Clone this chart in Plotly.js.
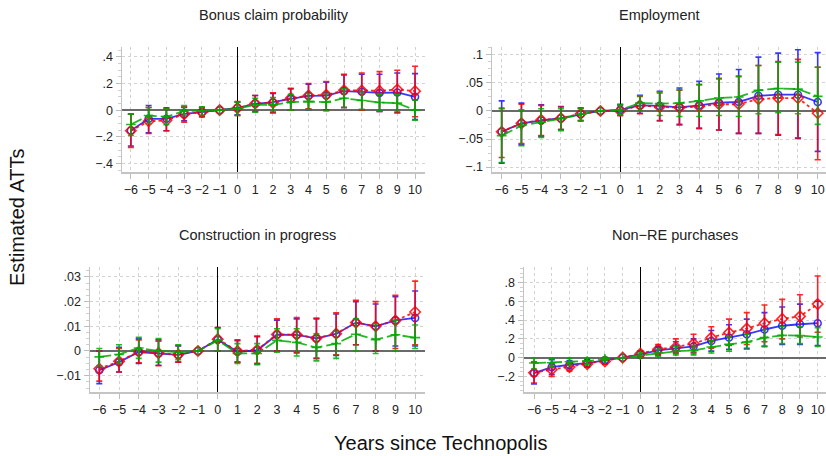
<!DOCTYPE html>
<html>
<head>
<meta charset="utf-8">
<script src="https://cdn.plot.ly/plotly-3.0.1.min.js"></script>
<style>html,body{margin:0;padding:0;background:#fff;}#chart{width:826px;height:456px;}</style>
</head>
<body>
<div id="chart"></div>
<script>
// ---------- DATA ----------
const years = [-6,-5,-4,-3,-2,-1,0,1,2,3,4,5,6,7,8,9,10];
const yearLabels = ["−6","−5","−4","−3","−2","−1","0","1","2","3","4","5","6","7","8","9","10"];

const panelTitles = ["Bonus claim probability","Employment","Construction in progress","Non−RE purchases"];

// Bonus claim probability
const bonusBlue   = [-0.153,-0.065,-0.065,-0.028,-0.015,0,0.018,0.048,0.06,0.085,0.108,0.11,0.143,0.138,0.13,0.133,0.10];
const bonusBlueLo = [-0.27,-0.17,-0.155,-0.08,-0.05,0,-0.035,-0.01,-0.02,0.0,0.005,0.0,0.02,0.005,-0.01,-0.02,-0.07];
const bonusBlueHi = [-0.03,0.035,0.018,0.02,0.02,0,0.06,0.11,0.125,0.16,0.195,0.21,0.265,0.27,0.27,0.28,0.275];
const bonusRed    = [-0.155,-0.083,-0.078,-0.03,-0.015,0,0.015,0.05,0.055,0.09,0.11,0.115,0.15,0.148,0.145,0.155,0.143];
const bonusRedLo  = [-0.28,-0.175,-0.155,-0.09,-0.05,0,-0.04,-0.01,-0.02,0.0,0.01,0.0,0.02,0.0,-0.01,-0.02,-0.05];
const bonusRedHi  = [-0.03,0.02,0.01,0.025,0.02,0,0.065,0.11,0.13,0.165,0.2,0.215,0.27,0.28,0.29,0.3,0.33];
const bonusGreen   = [-0.108,-0.04,-0.05,-0.005,-0.005,0,0.01,0.04,0.04,0.06,0.065,0.06,0.09,0.073,0.058,0.053,0.0];
const bonusGreenLo = [-0.19,-0.1,-0.11,-0.04,-0.04,0,-0.04,-0.015,-0.01,0.0,0.005,-0.005,0.02,0.005,-0.005,-0.01,-0.075];
const bonusGreenHi = [-0.03,0.02,0.01,0.035,0.025,0,0.06,0.09,0.095,0.12,0.125,0.125,0.16,0.14,0.12,0.115,0.075];

// Employment
const empBlue   = [-0.037,-0.022,-0.017,-0.013,-0.006,0,0.002,0.01,0.009,0.0065,0.01,0.015,0.016,0.027,0.029,0.029,0.016];
const empBlueLo = [-0.093,-0.06,-0.045,-0.033,-0.018,0,-0.008,-0.004,-0.017,-0.024,-0.031,-0.034,-0.04,-0.04,-0.043,-0.049,-0.072];
const empBlueHi = [0.018,0.014,0.011,0.008,0.005,0,0.012,0.028,0.035,0.041,0.053,0.066,0.074,0.096,0.103,0.109,0.104];
const empRed    = [-0.037,-0.022,-0.016,-0.013,-0.005,0,0.0,0.01,0.007,0.006,0.008,0.012,0.012,0.021,0.023,0.023,-0.004];
const empRedLo  = [-0.083,-0.058,-0.044,-0.033,-0.017,0,-0.008,-0.005,-0.018,-0.025,-0.031,-0.034,-0.04,-0.04,-0.042,-0.048,-0.087];
const empRedHi  = [0.005,0.012,0.01,0.007,0.005,0,0.01,0.026,0.032,0.037,0.047,0.058,0.062,0.081,0.088,0.092,0.078];
const empGreen   = [-0.044,-0.026,-0.02,-0.014,-0.006,0,0.002,0.014,0.013,0.014,0.018,0.023,0.025,0.037,0.04,0.039,0.026];
const empGreenLo = [-0.092,-0.062,-0.047,-0.035,-0.017,0,-0.007,0.0,-0.008,-0.01,-0.01,-0.008,-0.01,-0.005,-0.003,-0.005,-0.024];
const empGreenHi = [0.004,0.002,0.004,0.004,0.004,0,0.011,0.027,0.034,0.038,0.047,0.057,0.061,0.081,0.087,0.087,0.078];

// Construction in progress
const conBlue   = [-0.0078,-0.0045,-0.0004,-0.001,-0.0016,0,0.0046,-0.0003,0.0003,0.0066,0.0065,0.0051,0.0069,0.0115,0.01,0.0124,0.0134];
const conBlueLo = [-0.0132,-0.0085,-0.005,-0.0058,-0.0045,0,0.0,-0.0045,-0.0052,0.0,-0.0008,-0.003,-0.0018,0.0025,0.0,0.002,0.002];
const conBlueHi = [0.0,0.0015,0.005,0.0045,0.002,0,0.0095,0.0042,0.0058,0.0125,0.013,0.013,0.015,0.02,0.019,0.022,0.0243];
const conRed    = [-0.0072,-0.0042,-0.0003,-0.0008,-0.0015,0,0.0048,0.0,0.0005,0.0067,0.0066,0.0052,0.007,0.0115,0.01,0.0123,0.0158];
const conRedLo  = [-0.0122,-0.0085,-0.0048,-0.006,-0.0045,0,0.0,-0.0045,-0.005,0.0,-0.0005,-0.003,-0.0015,0.0025,0.0,0.001,0.0025];
const conRedHi  = [0.0,0.001,0.0045,0.004,0.0022,0,0.0095,0.0045,0.006,0.013,0.0135,0.0133,0.0155,0.0205,0.02,0.0225,0.0283];
const conGreen   = [-0.0024,-0.0014,0.0012,0.0,-0.0005,0,0.0043,-0.001,-0.001,0.0043,0.0035,0.0014,0.003,0.0068,0.0046,0.0066,0.0054];
const conGreenLo = [-0.006,-0.005,-0.003,-0.0045,-0.0035,0,0.0,-0.005,-0.0055,-0.0005,-0.002,-0.004,-0.003,0.0,-0.001,0.0,0.001];
const conGreenHi = [0.001,0.0025,0.0055,0.005,0.0025,0,0.009,0.003,0.003,0.009,0.009,0.007,0.008,0.013,0.011,0.0125,0.0105];

// Non-RE purchases
const nreBlue   = [-0.164,-0.1,-0.075,-0.057,-0.028,0,0.036,0.078,0.1,0.12,0.178,0.214,0.25,0.3,0.34,0.356,0.367];
const nreBlueLo = [-0.28,-0.18,-0.12,-0.1,-0.06,0,0.0,0.03,0.05,0.05,0.07,0.09,0.1,0.12,0.14,0.14,0.13];
const nreBlueHi = [-0.046,-0.02,-0.03,-0.02,-0.005,0,0.07,0.12,0.17,0.2,0.29,0.35,0.41,0.48,0.54,0.57,0.6];
const nreRed    = [-0.16,-0.128,-0.1,-0.068,-0.04,0,0.043,0.09,0.114,0.15,0.214,0.267,0.31,0.367,0.413,0.44,0.57];
const nreRedLo  = [-0.27,-0.2,-0.14,-0.1,-0.07,0,0.01,0.03,0.05,0.06,0.1,0.13,0.14,0.17,0.2,0.22,0.27];
const nreRedHi  = [-0.05,-0.06,-0.05,-0.03,-0.01,0,0.07,0.14,0.2,0.25,0.33,0.41,0.48,0.56,0.62,0.67,0.87];
const nreGreen   = [-0.057,-0.053,-0.043,-0.036,-0.014,0,0.025,0.05,0.068,0.078,0.114,0.142,0.167,0.214,0.238,0.235,0.22];
const nreGreenLo = [-0.12,-0.1,-0.08,-0.07,-0.03,0,0.0,0.01,0.03,0.03,0.05,0.07,0.09,0.12,0.15,0.15,0.12];
const nreGreenHi = [0.0,-0.01,-0.005,-0.002,0.005,0,0.05,0.09,0.12,0.13,0.18,0.22,0.25,0.3,0.33,0.33,0.32];

// y tick labels
const yTicks1 = [-0.4,-0.2,0,0.2,0.4];        const yText1 = ["−.4","−.2","0",".2",".4"];
const yTicks2 = [-0.1,-0.05,0,0.05,0.1];      const yText2 = ["−.1","−.05","0",".05",".1"];
const yTicks3 = [-0.01,0,0.01,0.02,0.03];     const yText3 = ["−.01","0",".01",".02",".03"];
const yTicks4 = [-0.2,0,0.2,0.4,0.6,0.8];     const yText4 = ["−.2","0",".2",".4",".6",".8"];

// ---------- STYLE / BUILD ----------
const FONT = "Liberation Sans, Arial, Helvetica, sans-serif";
const BLUE = "rgba(20,20,255,0.85)", RED = "rgba(255,0,0,0.85)", GREEN = "rgba(0,170,0,0.85)";

function series(x, y, lo, hi, ax, color, dash, symbol, msize) {
  return {
    type: "scatter", mode: "lines+markers", x: x, y: y,
    xaxis: "x" + ax, yaxis: "y" + ax, showlegend: false, cliponaxis: false,
    line: {color: color, width: 1.8, dash: dash},
    marker: {symbol: symbol, size: msize, color: color, line: {color: color, width: 1.6}},
    error_y: {type: "data", symmetric: false,
      array: hi.map((h, i) => h - y[i]), arrayminus: lo.map((l, i) => y[i] - l),
      color: color, thickness: 1.6, width: 3}
  };
}

const panels = [
  {b:[bonusBlue,bonusBlueLo,bonusBlueHi], r:[bonusRed,bonusRedLo,bonusRedHi], g:[bonusGreen,bonusGreenLo,bonusGreenHi]},
  {b:[empBlue,empBlueLo,empBlueHi], r:[empRed,empRedLo,empRedHi], g:[empGreen,empGreenLo,empGreenHi]},
  {b:[conBlue,conBlueLo,conBlueHi], r:[conRed,conRedLo,conRedHi], g:[conGreen,conGreenLo,conGreenHi]},
  {b:[nreBlue,nreBlueLo,nreBlueHi], r:[nreRed,nreRedLo,nreRedHi], g:[nreGreen,nreGreenLo,nreGreenHi]}
];

const traces = [];
panels.forEach((p, k) => {
  const ax = k + 1;
  traces.push(series(years, p.b[0], p.b[1], p.b[2], ax, BLUE, "solid", "circle-open", 7));
  traces.push(series(years, p.r[0], p.r[1], p.r[2], ax, RED, "3px,3px", "diamond-open", 8));
  traces.push(series(years, p.g[0], p.g[1], p.g[2], ax, GREEN, "12px,4px", "cross-thin-open", 7));
});

const W = 826, H = 456;
const boxes = [ // pixel boxes [left, right, top, bottom]
  [122, 425, 47, 172],
  [492, 826, 47, 172],
  [90, 425, 267, 392],
  [524, 826, 267, 392]
];
const xRanges = [[-6.5, 10.56], [-6.49, 10.42], [-6.47, 10.5], [-6.565, 10.47]];
const yRanges = [[-0.465, 0.475], [-0.1088, 0.114], [-0.0166, 0.034], [-0.365, 0.965]];
const yTV = [yTicks1, yTicks2, yTicks3, yTicks4];
const yTT = [yText1, yText2, yText3, yText4];
const yMinor = [0.05, 0.0125, 0.0025, 0.05];

const layout = {
  width: W, height: H, margin: {l: 0, r: 0, t: 0, b: 0},
  paper_bgcolor: "#fff", plot_bgcolor: "#fff",
  font: {family: FONT, size: 12, color: "#222"},
  annotations: [], showlegend: false
};

boxes.forEach((bx, k) => {
  const ax = k + 1;
  const xd = [bx[0] / W, bx[1] / W];
  const yd = [1 - bx[3] / H, 1 - bx[2] / H];
  layout["xaxis" + ax] = {
    domain: xd, anchor: "y" + ax, range: xRanges[k],
    tickvals: years, ticktext: yearLabels, ticks: "outside", ticklen: 5, tickcolor: "#bdbdbd",
    showline: true, linecolor: "#c4c4c4", linewidth: 1.5,
    showgrid: true, gridcolor: "#d2d2d2", griddash: "dot", gridwidth: 1,
    zeroline: true, zerolinecolor: "#000", zerolinewidth: 1.2,
    tickfont: {family: FONT, size: 12.5, color: "#222"}, fixedrange: true
  };
  layout["yaxis" + ax] = {
    domain: yd, anchor: "x" + ax, range: yRanges[k],
    tickvals: yTV[k], ticktext: yTT[k], ticks: "outside", ticklen: 5, tickcolor: "#bdbdbd",
    minor: {ticks: "outside", ticklen: 3, tickcolor: "#cfcfcf", dtick: yMinor[k], tick0: 0, showgrid: false},
    showline: true, linecolor: "#c4c4c4", linewidth: 1.5,
    showgrid: true, gridcolor: "#d2d2d2", griddash: "dot", gridwidth: 1,
    zeroline: true, zerolinecolor: "#6a6a6a", zerolinewidth: 2,
    tickfont: {family: FONT, size: 12.5, color: "#222"}, fixedrange: true
  };
  layout.annotations.push({
    text: panelTitles[k], xref: "paper", yref: "paper",
    x: (xd[0] + xd[1]) / 2, y: k < 2 ? 1 - 15 / H : 1 - 235 / H,
    xanchor: "center", yanchor: "middle", showarrow: false,
    font: {family: FONT, size: 14.5, color: "#222"}
  });
});

layout.annotations.push({
  text: "Estimated ATTs", xref: "paper", yref: "paper", x: 17 / W, y: 1 - 218 / H,
  textangle: -90, xanchor: "center", yanchor: "middle", showarrow: false,
  font: {family: FONT, size: 20, color: "#111"}
});
layout.annotations.push({
  text: "Years since Technopolis", xref: "paper", yref: "paper", x: 440 / W, y: 1 - 443 / H,
  xanchor: "center", yanchor: "middle", showarrow: false,
  font: {family: FONT, size: 20, color: "#111"}
});

Plotly.newPlot("chart", traces, layout, {staticPlot: true, displayModeBar: false});
</script>
</body>
</html>
